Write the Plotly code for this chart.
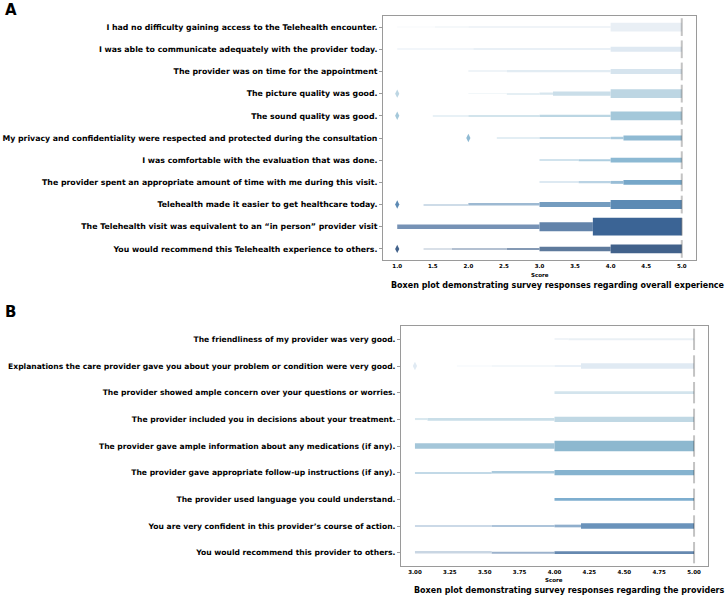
import plotly.graph_objects as go

W, H = 728, 596
FONT = "DejaVu Sans"

# ---------------- Panel A data ----------------
A_CATEGORIES = [
    "I had no difficulty gaining access to the Telehealth encounter.",
    "I was able to communicate adequately with the provider today.",
    "The provider was on time for the appointment",
    "The picture quality was good.",
    "The sound quality was good.",
    "My privacy and confidentiality were respected and protected during the consultation",
    "I was comfortable with the evaluation that was done.",
    "The provider spent an appropriate amount of time with me during this visit.",
    "Telehealth made it easier to get healthcare today.",
    "The Telehealth visit was equivalent to an \u201cin person\u201d provider visit",
    "You would recommend this Telehealth experience to others.",
]
# letter-value boxes (inner -> outer): [low, high]
A_BOXES = [
    [[4, 5], [2, 4], [1.53, 2], [1, 1.53]],
    [[4, 5], [2.07, 4], [1, 2.07]],
    [[4, 5], [2.54, 4], [2, 2.54]],
    [[4, 5], [3.19, 4], [3, 3.19], [2.54, 3], [2, 2.54]],
    [[4, 5], [3, 4], [2, 3], [1.5, 2]],
    [[4.18, 5], [4, 4.18], [3, 4], [2.4, 3]],
    [[4, 5], [3.55, 4], [3, 3.55]],
    [[4.18, 5], [4, 4.18], [3.55, 4], [3, 3.55]],
    [[4, 5], [3, 4], [2, 3], [1.37, 2]],
    [[3.75, 5], [3, 3.75], [1, 3]],
    [[4, 5], [3, 4], [2.54, 3], [1.77, 2.54], [1.37, 1.77]],
]
A_MEDIANS = [5, 5, 5, 5, 5, 5, 5, 5, 5, 5, 5]
A_OUTLIERS = [[], [], [], [1], [1], [2], [], [], [1], [], [1]]
A_XTICKS = [1.0, 1.5, 2.0, 2.5, 3.0, 3.5, 4.0, 4.5, 5.0]
A_XTICK_LABELS = ["1.0", "1.5", "2.0", "2.5", "3.0", "3.5", "4.0", "4.5", "5.0"]

# box thickness (fraction of a row) and lightening toward white
A_HEIGHTS = [
    [0.4, 0.07, 0.045, 0.03],
    [0.22, 0.06, 0.04],
    [0.22, 0.07, 0.045],
    [0.4, 0.2, 0.1, 0.05, 0.03],
    [0.4, 0.1, 0.07, 0.04],
    [0.22, 0.11, 0.07, 0.04],
    [0.22, 0.09, 0.05],
    [0.22, 0.13, 0.07, 0.045],
    [0.4, 0.22, 0.09, 0.045],
    [0.8, 0.4, 0.2],
    [0.4, 0.2, 0.09, 0.045, 0.03],
]
A_MIX = [
    [0, 0.3, 0.55, 0.8],
    [0, 0.3, 0.6],
    [0, 0.3, 0.6],
    [0, 0.2, 0.4, 0.6, 0.8],
    [0, 0.25, 0.5, 0.75],
    [0, 0.25, 0.5, 0.75],
    [0, 0.3, 0.6],
    [0, 0.25, 0.5, 0.75],
    [0, 0.15, 0.4, 0.7],
    [0, 0.2, 0.3],
    [0, 0.15, 0.35, 0.6, 0.8],
]
A_COLORS = ["#e9eff5", "#dfe9f2", "#d6e4ee", "#bdd6e3", "#a4c8da", "#8fbad3",
            "#8cb9d3", "#76a7c9", "#5c8ab4", "#3b6495", "#42628b"]

# ---------------- Panel B data ----------------
B_CATEGORIES = [
    "The friendliness of my provider was very good.",
    "Explanations the care provider gave you about your problem or condition were very good.",
    "The provider showed ample concern over your questions or worries.",
    "The provider included you in decisions about your treatment.",
    "The provider gave ample information about any medications (if any).",
    "The provider gave appropriate follow-up instructions (if any).",
    "The provider used language you could understand.",
    "You are very confident in this provider\u2019s course of action.",
    "You would recommend this provider to others.",
]
B_BOXES = [
    [[4.1, 5], [4, 4.1]],
    [[4.19, 5], [4, 4.19], [3.55, 4], [3.3, 3.55]],
    [[4, 5]],
    [[4, 5], [3.09, 4], [3, 3.09]],
    [[4, 5], [3, 4]],
    [[4, 5], [3.55, 4], [3, 3.55]],
    [[4, 5]],
    [[4.19, 5], [4, 4.19], [3.55, 4], [3, 3.55]],
    [[4, 5], [3.55, 4], [3, 3.55]],
]
B_MEDIANS = [5, 5, 5, 5, 5, 5, 5, 5, 5]
B_OUTLIERS = [[], [3.0], [], [], [], [], [], [], []]
B_XTICKS = [3.0, 3.25, 3.5, 3.75, 4.0, 4.25, 4.5, 4.75, 5.0]
B_XTICK_LABELS = ["3.00", "3.25", "3.50", "3.75", "4.00", "4.25", "4.50", "4.75", "5.00"]

B_HEIGHTS = [
    [0.075, 0.04],
    [0.2, 0.075, 0.04, 0.03],
    [0.1],
    [0.2, 0.1, 0.055],
    [0.4, 0.2],
    [0.2, 0.055, 0.045],
    [0.1],
    [0.2, 0.1, 0.055, 0.04],
    [0.1, 0.075, 0.055],
]
B_MIX = [
    [0, 0.3],
    [0, 0.3, 0.6, 0.8],
    [0],
    [0, 0.15, 0.4],
    [0, 0.2],
    [0, 0.3, 0.5],
    [0],
    [0, 0.25, 0.45, 0.65],
    [0, 0.35, 0.65],
]
B_COLORS = ["#eaf0f5", "#e0eaf3", "#d3e4ed", "#c0d8e4", "#8db8cf", "#86b3cf",
            "#7eaecf", "#6a93bb", "#6689b0"]


def mix_white(hexc, t):
    hexc = hexc.lstrip("#")
    r, g, b = (int(hexc[i:i + 2], 16) for i in (0, 2, 4))
    r = round(r + (255 - r) * t)
    g = round(g + (255 - g) * t)
    b = round(b + (255 - b) * t)
    return f"rgb({r},{g},{b})"


def px_x(p):
    return p / W


def px_y(p):
    return 1 - p / H


fig = go.Figure()


def add_panel(cats, boxes, heights, mixes, colors, medians, outliers, xaxis, yaxis):
    base, length, ys, widths, cols = [], [], [], [], []
    for i, (bx, hs, ms) in enumerate(zip(boxes, heights, mixes)):
        # draw outer boxes first so inner ones stay on top
        for (lo, hi), h, m in reversed(list(zip(bx, hs, ms))):
            base.append(lo)
            length.append(hi - lo)
            ys.append(i)
            widths.append(h)
            cols.append(mix_white(colors[i], m))
    fig.add_trace(go.Bar(
        orientation="h", base=base, x=length, y=ys, width=widths,
        marker=dict(color=cols, line=dict(width=0)),
        xaxis=xaxis, yaxis=yaxis, showlegend=False, hoverinfo="skip"))
    # medians
    mx, my = [], []
    for i, med in enumerate(medians):
        mx += [med, med, None]
        my += [i - 0.4, i + 0.4, None]
    fig.add_trace(go.Scatter(
        x=mx, y=my, mode="lines", line=dict(color="rgba(38,38,38,0.28)", width=2),
        xaxis=xaxis, yaxis=yaxis, showlegend=False, hoverinfo="skip"))
    # outliers
    ox, oy, oc = [], [], []
    for i, outs in enumerate(outliers):
        for v in outs:
            ox.append(v)
            oy.append(i)
            oc.append(colors[i])
    fig.add_trace(go.Scatter(
        x=ox, y=oy, mode="markers",
        marker=dict(symbol="diamond-tall", size=6, color=oc, line=dict(width=0)),
        xaxis=xaxis, yaxis=yaxis, showlegend=False, hoverinfo="skip"))


add_panel(A_CATEGORIES, A_BOXES, A_HEIGHTS, A_MIX, A_COLORS, A_MEDIANS, A_OUTLIERS, "x", "y")
add_panel(B_CATEGORIES, B_BOXES, B_HEIGHTS, B_MIX, B_COLORS, B_MEDIANS, B_OUTLIERS, "x2", "y2")

axis_common = dict(showgrid=False, zeroline=False, showline=True, mirror=True,
                   linecolor="#9a9a9a", linewidth=1, automargin=False)
y_ticks = dict(ticks="outside", ticklen=3, tickcolor="#9a9a9a", tickwidth=1)
x_ticks = dict(ticks="")

fig.update_layout(
    template="none",
    width=W, height=H,
    margin=dict(l=0, r=0, t=0, b=0, pad=0),
    paper_bgcolor="white", plot_bgcolor="white",
    barmode="overlay",
    font=dict(family=FONT, color="black"),
    xaxis=dict(domain=[px_x(383), px_x(696)], range=[0.8, 5.2], anchor="y",
               tickvals=A_XTICKS, ticktext=A_XTICK_LABELS,
               tickfont=dict(size=5.5, family=FONT, weight="bold"), **axis_common, **x_ticks),
    yaxis=dict(domain=[px_y(260), px_y(16)], range=[len(A_CATEGORIES) - 0.5, -0.5],
               anchor="x", tickvals=list(range(len(A_CATEGORIES))), ticktext=A_CATEGORIES,
               tickfont=dict(size=7.8, family=FONT, weight="bold"), **axis_common, **y_ticks),
    xaxis2=dict(domain=[px_x(401), px_x(708)], range=[2.9, 5.1], anchor="y2",
                tickvals=B_XTICKS, ticktext=B_XTICK_LABELS,
                tickfont=dict(size=5.5, family=FONT, weight="bold"), **axis_common, **x_ticks),
    yaxis2=dict(domain=[px_y(566), px_y(326)], range=[len(B_CATEGORIES) - 0.5, -0.5],
                anchor="x2", tickvals=list(range(len(B_CATEGORIES))), ticktext=B_CATEGORIES,
                tickfont=dict(size=7.6, family=FONT, weight="bold"), **axis_common, **y_ticks),
)

annotations = [
    dict(text="A", x=px_x(3), y=px_y(10), font=dict(size=15, weight="bold")),
    dict(text="B", x=px_x(3), y=px_y(312), font=dict(size=15, weight="bold")),
    dict(text="Score", x=px_x(540), y=px_y(275), font=dict(size=5.5, weight="bold"), xanchor="center"),
    dict(text="Boxen plot demonstrating survey responses regarding overall experience",
         x=px_x(727), y=px_y(286), font=dict(size=8, weight="bold"), xanchor="right"),
    dict(text="Score", x=px_x(554), y=px_y(580), font=dict(size=5.5, weight="bold"), xanchor="center"),
    dict(text="Boxen plot demonstrating survey responses regarding the providers",
         x=px_x(727), y=px_y(590), font=dict(size=8, weight="bold"), xanchor="right"),
]
for a in annotations:
    a.setdefault("xanchor", "left")
    a["font"]["family"] = FONT
    a["font"]["color"] = "black"
    fig.add_annotation(xref="paper", yref="paper", yanchor="middle", showarrow=False, **a)

fig.write_html(
    "out.html",
    config={"displayModeBar": False},
    post_script="document.body.style.margin='0';document.body.style.padding='0';"
                "document.body.style.overflow='hidden';",
)
